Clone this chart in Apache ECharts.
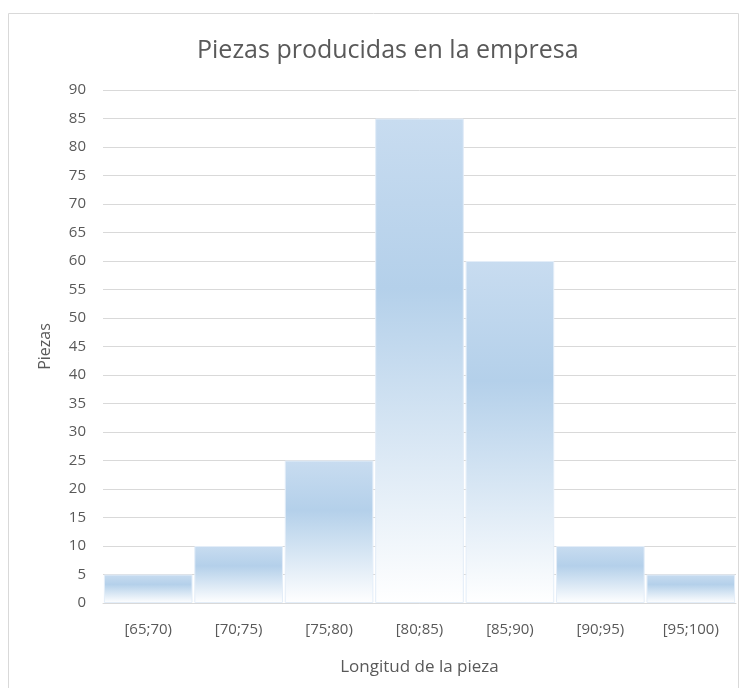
<!DOCTYPE html>
<html><head><meta charset="utf-8">
<script src="https://cdn.jsdelivr.net/npm/echarts@6/dist/echarts.min.js"></script>
<style>html,body{margin:0;padding:0;background:#fff}#c{width:746px;height:688px}</style>
</head><body><div id="c"></div>
<script>
var categories = ['[65;70)', '[70;75)', '[75;80)', '[80;85)', '[85;90)', '[90;95)', '[95;100)'];
var piezas = [5, 10, 25, 85, 60, 10, 5];
var yMin = 0, yMax = 90, yStep = 5;

var chart = echarts.init(document.getElementById('c'));
var font = '"Open Sans", sans-serif';
chart.setOption({
  animation: false,
  graphic: [{type: 'rect', shape: {x: 8.5, y: 13.5, width: 730, height: 690}, style: {fill: 'none', stroke: '#d9d9d9', lineWidth: 1}, silent: true}],
  title: {text: 'Piezas producidas en la empresa', left: 192, top: 33,
    textStyle: {fontFamily: font, fontSize: 25, fontWeight: 'normal', color: '#595959'}},
  grid: {left: 103, right: 10, top: 90, bottom: 85},
  xAxis: {type: 'category', data: categories, name: 'Longitud de la pieza', nameLocation: 'middle', nameGap: 56,
    nameTextStyle: {fontFamily: font, fontSize: 17, color: '#595959'},
    axisLine: {lineStyle: {color: '#d9d9d9', width: 1}}, axisTick: {show: false},
    axisLabel: {fontFamily: font, fontSize: 15, color: '#595959', margin: 19}},
  yAxis: {type: 'value', min: yMin, max: yMax, interval: yStep, name: 'Piezas', nameLocation: 'middle', nameGap: 50,
    nameTextStyle: {fontFamily: font, fontSize: 16, color: '#595959'},
    axisLine: {show: false}, axisTick: {show: false},
    axisLabel: {fontFamily: font, fontSize: 15, color: '#595959', margin: 17},
    splitLine: {lineStyle: {color: '#d9d9d9', width: 1}}},
  series: [{type: 'bar', data: piezas, barCategoryGap: '2%',
    itemStyle: {borderColor: '#e3edf8', borderWidth: 1,
      color: new echarts.graphic.LinearGradient(0, 0, 0, 1, [
        {offset: 0, color: '#c8dcf0'}, {offset: 0.35, color: '#b4d0ea'}, {offset: 1, color: '#ffffff'}])}}]
});
</script></body></html>
